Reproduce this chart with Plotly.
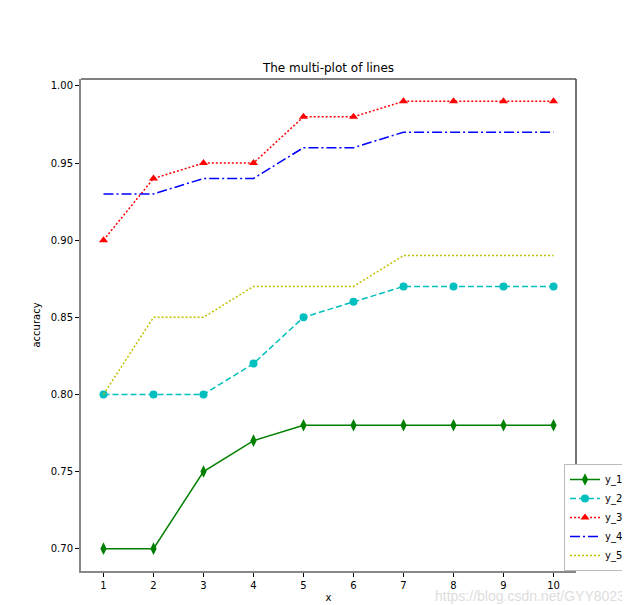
import plotly.graph_objects as go

x = [1, 2, 3, 4, 5, 6, 7, 8, 9, 10]
y_1 = [0.70, 0.70, 0.75, 0.77, 0.78, 0.78, 0.78, 0.78, 0.78, 0.78]
y_2 = [0.80, 0.80, 0.80, 0.82, 0.85, 0.86, 0.87, 0.87, 0.87, 0.87]
y_3 = [0.90, 0.94, 0.95, 0.95, 0.98, 0.98, 0.99, 0.99, 0.99, 0.99]
y_4 = [0.93, 0.93, 0.94, 0.94, 0.96, 0.96, 0.97, 0.97, 0.97, 0.97]
y_5 = [0.80, 0.85, 0.85, 0.87, 0.87, 0.87, 0.89, 0.89, 0.89, 0.89]
y_ticks = [0.70, 0.75, 0.80, 0.85, 0.90, 0.95, 1.00]

font = "DejaVu Sans"
fig = go.Figure()
fig.add_trace(go.Scatter(x=x, y=y_1, name="y_1", mode="lines+markers",
                         line=dict(color="#008000", width=1.5, dash="solid"),
                         marker=dict(symbol="diamond-tall", size=9, color="#008000")))
fig.add_trace(go.Scatter(x=x, y=y_2, name="y_2", mode="lines+markers",
                         line=dict(color="#00bfbf", width=1.5, dash="6px,3px"),
                         marker=dict(symbol="circle", size=8, color="#00bfbf")))
fig.add_trace(go.Scatter(x=x, y=y_3, name="y_3", mode="lines+markers",
                         line=dict(color="#ff0000", width=1.5, dash="2px,2px"),
                         marker=dict(symbol="triangle-up", size=8, color="#ff0000")))
fig.add_trace(go.Scatter(x=x, y=y_4, name="y_4", mode="lines",
                         line=dict(color="#0000ff", width=1.5, dash="10px,3px,2px,3px")))
fig.add_trace(go.Scatter(x=x, y=y_5, name="y_5", mode="lines",
                         line=dict(color="#bfbf00", width=1.5, dash="2px,2px")))

fig.update_layout(
    width=630, height=605,
    margin=dict(l=73, r=62, t=71, b=42, autoexpand=False),
    plot_bgcolor="white", paper_bgcolor="white",
    font=dict(family=font, size=10, color="black"),
    title=dict(text="The multi-plot of lines", x=0.5, xref="paper", xanchor="center",
               y=1 - 60 / 605, yanchor="middle", font=dict(size=12, color="black")),
    showlegend=True,
    legend=dict(x=(556 - 73) / 495, y=0.0, xanchor="left", yanchor="bottom",
                bgcolor="white", bordercolor="#bbbbbb", borderwidth=1,
                font=dict(size=10), tracegroupgap=0, itemwidth=30),
    xaxis=dict(range=[0.55, 10.45], tickvals=x, ticks="outside", ticklen=4,
               tickcolor="black", showgrid=False, zeroline=False,
               showline=True, linecolor="#888888", linewidth=2,
               title=dict(text="x", standoff=4, font=dict(size=10))),
    yaxis=dict(range=[0.6855, 1.0045], tickvals=y_ticks,
               ticktext=[f"{v:.2f}" for v in y_ticks], ticks="outside", ticklen=4,
               tickcolor="black", showgrid=False, zeroline=False,
               showline=True, linecolor="#888888", linewidth=2,
               title=dict(text="accuracy", standoff=8, font=dict(size=10))),
    shapes=[dict(type="line", xref="paper", yref="paper", x0=0, x1=1, y0=1, y1=1,
                 line=dict(color="black", width=1.2)),
            dict(type="line", xref="paper", yref="paper", x0=1, x1=1, y0=0, y1=1,
                 line=dict(color="#444444", width=1.5))],
    annotations=[dict(text="https://blog.csdn.net/GYY8023", xref="paper", yref="paper",
                      x=(619 - 73) / 495, y=-(588 - 563) / 492, xanchor="right",
                      yanchor="middle", showarrow=False,
                      font=dict(size=14, color="#dddddd", family="Liberation Sans"))],
)

fig.write_html("out.html")
